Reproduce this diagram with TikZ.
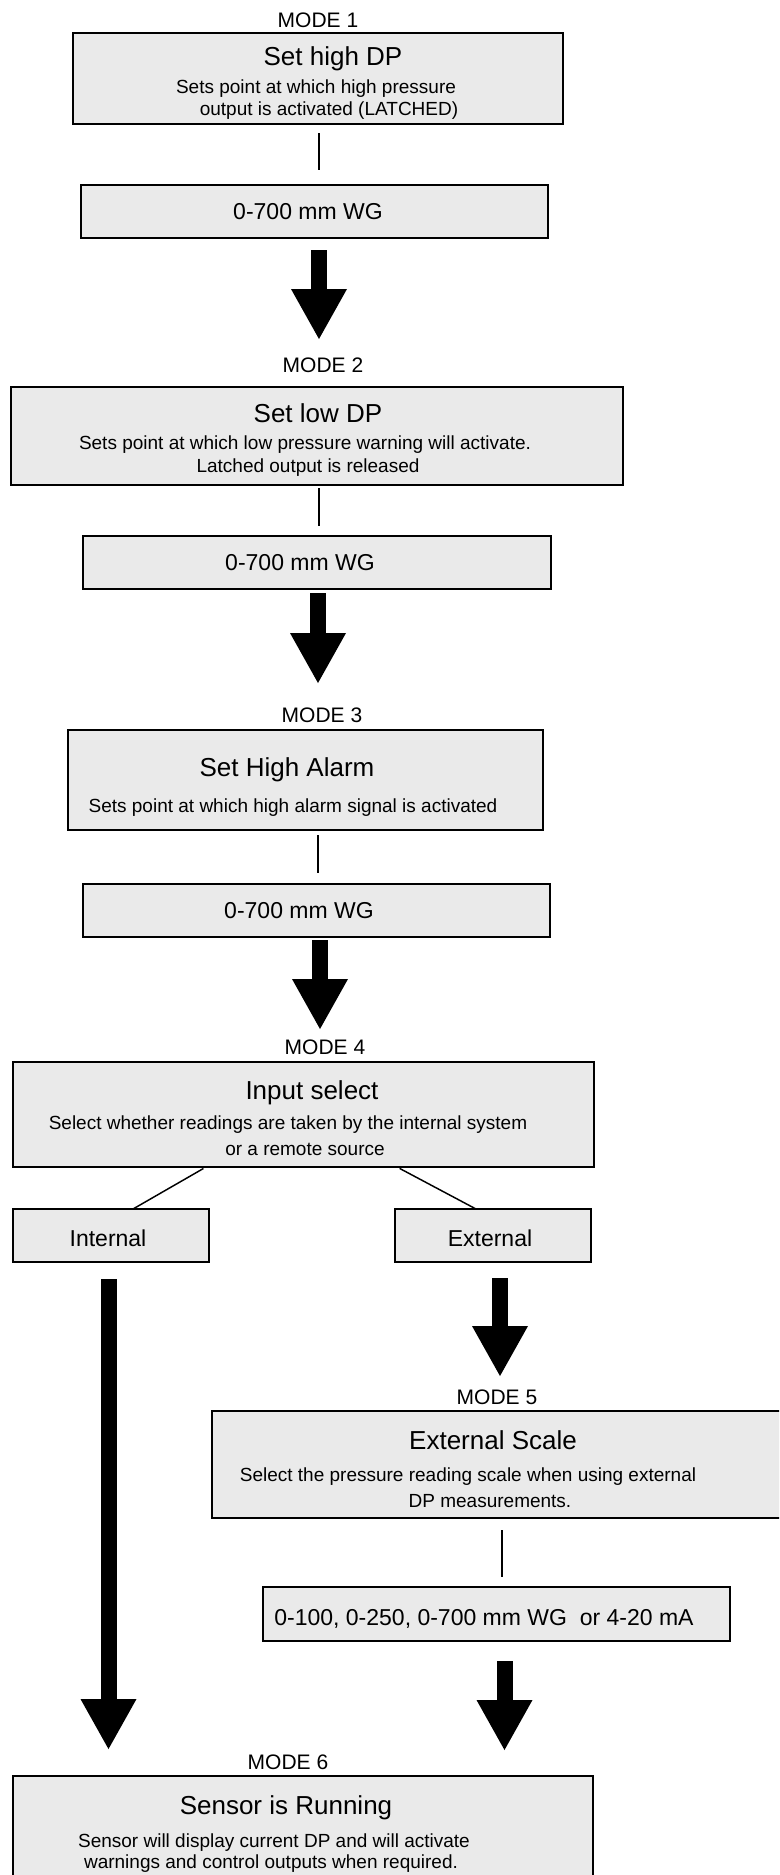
\documentclass[tikz,border=0pt]{standalone}
\usepackage{fontspec}
\setmainfont{Liberation Sans}
\usetikzlibrary{arrows.meta}
\usetikzlibrary{fit}
\definecolor{boxgray}{RGB}{234,234,234}

\begin{document}
\begin{tikzpicture}[x=0.75pt,y=0.75pt,yscale=-1,xscale=1,
  modebox/.style={draw, line width=1.5pt, fill=boxgray, inner sep=0pt, outer sep=0pt},
  modelabel/.style={font=\fontsize{15.75}{18}\selectfont, anchor=base, inner sep=0.75pt},
  boxtitle/.style={font=\fontsize{19.5}{22}\selectfont, anchor=base, inner sep=0.75pt},
  boxnote/.style={font=\fontsize{14.25}{16}\selectfont, anchor=base, inner sep=0.75pt},
  rangetext/.style={font=\fontsize{17.25}{20}\selectfont, anchor=base, inner sep=0.75pt},
  link/.style={line width=1.1pt},
  bigarrow/.style={line width=12pt, -{Triangle[width=42pt,length=37.5pt,line width=0pt]}}]
%set diagram to 779 x 1875
\useasboundingbox (0,0) rectangle (779,1875);
\clip (0,0) rectangle (779,1875);

%Mode 1
\node[modelabel] (modeOne) at (318,27) {MODE 1};
\node[modebox, fit={(73,33) (563,124)}] (highDPBox) {};
\node[boxtitle] (highDPTitle) at (333,65) {Set high DP};
\node[boxnote] (highDPNoteA) at (316,93) {Sets point at which high pressure};
\node[boxnote] (highDPNoteB) at (329,115) {output is activated (LATCHED)};
\node[modebox, fit={(81,185) (548,238)}] (highDPRange) {};
\node[rangetext] (highDPRangeText) at (308,219) {0-700 mm WG};

%Mode 2
\node[modelabel] (modeTwo) at (323,372.5) {MODE 2};
\node[modebox, fit={(11,387) (623,485)}] (lowDPBox) {};
\node[boxtitle] (lowDPTitle) at (318,422) {Set low DP};
\node[boxnote] (lowDPNoteA) at (305,449) {Sets point at which low pressure warning will activate.};
\node[boxnote] (lowDPNoteB) at (308,472) {Latched output is released};
\node[modebox, fit={(83,536) (551,589)}] (lowDPRange) {};
\node[rangetext] (lowDPRangeText) at (300,570) {0-700 mm WG};

%Mode 3
\node[modelabel] (modeThree) at (322,722.5) {MODE 3};
\node[modebox, fit={(68,730) (543,830)}] (alarmBox) {};
\node[boxtitle] (alarmTitle) at (287,776) {Set High Alarm};
\node[boxnote] (alarmNote) at (293,812) {Sets point at which high alarm signal is activated};
\node[modebox, fit={(83,884) (550,937)}] (alarmRange) {};
\node[rangetext] (alarmRangeText) at (299,918) {0-700 mm WG};

%Mode 4
\node[modelabel] (modeFour) at (325,1054.5) {MODE 4};
\node[modebox, fit={(13,1062) (594,1167)}] (inputBox) {};
\node[boxtitle] (inputTitle) at (312,1099) {Input select};
\node[boxnote] (inputNoteA) at (288,1129) {Select whether readings are taken by the internal system};
\node[boxnote] (inputNoteB) at (305,1155) {or a remote source};
\node[modebox, fit={(13,1209) (209,1262)}] (internalBox) {};
\node[rangetext] (internalText) at (108,1246) {Internal};
\node[modebox, fit={(395,1209) (591,1262)}] (externalBox) {};
\node[rangetext] (externalText) at (490,1246) {External};

%Mode 5
\node[modelabel] (modeFive) at (497,1404.5) {MODE 5};
\node[modebox, fit={(212,1411) (790,1518)}] (scaleBox) {};
\node[boxtitle] (scaleTitle) at (493,1449) {External Scale};
\node[boxnote] (scaleNoteA) at (468,1481) {Select the pressure reading scale when using external};
\node[boxnote] (scaleNoteB) at (490,1507) {DP measurements.};
\node[modebox, fit={(263,1587) (730,1641)}] (scaleRange) {};
\node[rangetext] (scaleRangeText) at (484,1625) {0-100, 0-250, 0-700 mm WG\ \ or 4-20 mA};

%Mode 6
\node[modelabel] (modeSix) at (288,1769.5) {MODE 6};
\node[modebox, fit={(13,1776) (593,1890)}] (runningBox) {};
\node[boxtitle] (runningTitle) at (286,1814) {Sensor is Running};
\node[boxnote] (runningNoteA) at (274,1847) {Sensor will display current DP and will activate};
\node[boxnote] (runningNoteB) at (271,1868) {warnings and control outputs when required.};

%Connectors
\coordinate (stemA) at (319,0);
\coordinate (stemB) at (319,0);
\coordinate (stemC) at (318,0);
\coordinate (stemD) at (502,0);
\coordinate (forkL) at (206,0);
\coordinate (forkLEnd) at (133,0);
\coordinate (forkR) at (397,0);
\coordinate (forkREnd) at (476,0);
\draw[link, shorten <=6.75pt, shorten >=11.25pt] (highDPBox.south -| stemA) -- (highDPRange.north -| stemA);
\draw[link, shorten <=2.25pt, shorten >=7.5pt] (lowDPBox.south -| stemB) -- (lowDPRange.north -| stemB);
\draw[link, shorten <=3.75pt, shorten >=8.25pt] (alarmBox.south -| stemC) -- (alarmRange.north -| stemC);
\draw[link, shorten <=9pt, shorten >=7.5pt] (scaleBox.south -| stemD) -- (scaleRange.north -| stemD);
\draw[link, shorten <=2.25pt] (inputBox.south -| forkL) -- (internalBox.north -| forkLEnd);
\draw[link, shorten <=2.25pt] (inputBox.south -| forkR) -- (externalBox.north -| forkREnd);

%Block arrows
\coordinate (tipA) at (319,339);
\coordinate (tipB) at (318,683);
\coordinate (tipC) at (320,1029);
\coordinate (tipD) at (108.5,1749);
\coordinate (tipE) at (500,1376);
\coordinate (tipF) at (504.5,1750);
\draw[bigarrow, shorten <=9pt] (highDPRange.south -| tipA) -- (tipA);
\draw[bigarrow, shorten <=3pt] (lowDPRange.south -| tipB) -- (tipB);
\draw[bigarrow, shorten <=2.25pt] (alarmRange.south -| tipC) -- (tipC);
\draw[bigarrow, shorten <=12.75pt] (internalBox.south -| tipD) -- (tipD);
\draw[bigarrow, shorten <=12pt] (externalBox.south -| tipE) -- (tipE);
\draw[bigarrow, shorten <=15pt] (scaleRange.south -| tipF) -- (tipF);

\end{tikzpicture}
\end{document}
